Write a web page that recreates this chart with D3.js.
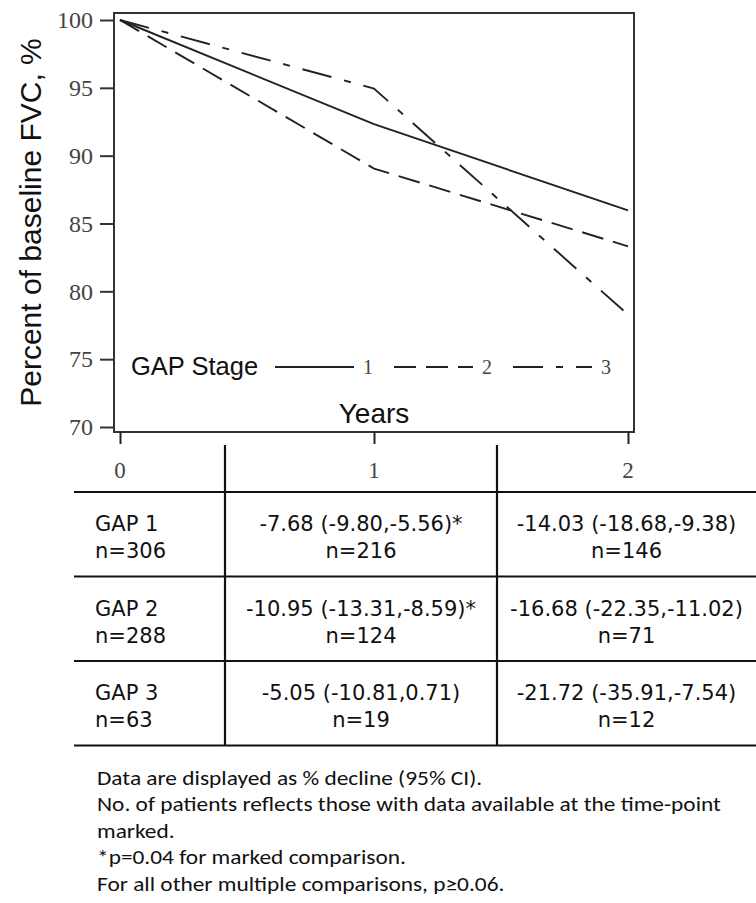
<!DOCTYPE html>
<html>
<head>
<meta charset="utf-8">
<script src="https://cdn.jsdelivr.net/npm/d3@7"></script>
<style>
  body { margin: 0; background: #fff; }
  svg { display: block; }
</style>
</head>
<body>
<div id="chart"></div>
<script>
// data
var years = [0, 1, 2];
var yTicks = [70, 75, 80, 85, 90, 95, 100];
var stages = ["1", "2", "3"];
var gap1 = [100, 92.32, 85.97];
var gap2 = [100, 89.05, 83.32];
var gap3 = [100, 94.95, 78.28];

var rowLabels = ["GAP 1", "GAP 2", "GAP 3"];
var rowN = ["n=306", "n=288", "n=63"];
var year1Change = ["-7.68 (-9.80,-5.56)*", "-10.95 (-13.31,-8.59)*", "-5.05 (-10.81,0.71)"];
var year1N = ["n=216", "n=124", "n=19"];
var year2Change = ["-14.03 (-18.68,-9.38)", "-16.68 (-22.35,-11.02)", "-21.72 (-35.91,-7.54)"];
var year2N = ["n=146", "n=71", "n=12"];

var notes = [
  "Data are displayed as % decline (95% CI).",
  "No. of patients reflects those with data available at the time-point",
  "marked.",
  "*p=0.04 for marked comparison.",
  "For all other multiple comparisons, p\u22650.06."
];

var svgWidth = 756;
var svgHeight = 903;

var svg = d3.select("#chart")
  .append("svg")
  .attr("width", svgWidth)
  .attr("height", svgHeight);

var ink = "#222";
var serif = "'Liberation Serif', 'Times New Roman', serif";
var sans = "'Liberation Sans', Arial, sans-serif";
var tableFont = "'DejaVu Sans', sans-serif";
var noteFont = "Carlito, Calibri, 'Open Sans', sans-serif";

// scales
var x = d3.scaleLinear().domain([0, 2]).range([120, 628]);
var y = d3.scaleLinear().domain([70, 100]).range([427, 20]);

// plot frame
var box = { left: 114, right: 634, top: 13, bottom: 432 };
svg.append("rect")
  .attr("x", box.left)
  .attr("y", box.top)
  .attr("width", box.right - box.left)
  .attr("height", box.bottom - box.top)
  .attr("fill", "none")
  .attr("stroke", "#333")
  .attr("stroke-width", 2);

// y axis
var yAxis = svg.append("g")
  .attr("transform", `translate(${box.left - 1}, 0)`)
  .call(d3.axisLeft(y).tickValues(yTicks).tickSize(13).tickPadding(7));
yAxis.select(".domain").remove();
yAxis.selectAll(".tick line").attr("stroke", "#333").attr("stroke-width", 2);
yAxis.selectAll(".tick text")
  .attr("font-family", serif)
  .attr("font-size", 24)
  .attr("fill", "#444");

// x axis
var xAxis = svg.append("g")
  .attr("transform", `translate(0, ${box.bottom})`)
  .call(d3.axisBottom(x).tickValues(years).tickSize(12).tickFormat(""));
xAxis.select(".domain").remove();
xAxis.selectAll(".tick line").attr("stroke", "#222").attr("stroke-width", 2);

svg.append("g")
  .selectAll("text")
  .data(years)
  .enter()
  .append("text")
  .attr("x", d => x(d))
  .attr("y", 478)
  .attr("text-anchor", "middle")
  .attr("font-family", serif)
  .attr("font-size", 23)
  .attr("fill", "#444")
  .text(d => d);

// axis titles
svg.append("text")
  .attr("transform", `translate(41, ${(box.top + box.bottom) / 2}) rotate(-90)`)
  .attr("text-anchor", "middle")
  .attr("font-family", sans)
  .attr("font-size", 30)
  .attr("fill", "#111")
  .text("Percent of baseline FVC, %");

svg.append("text")
  .attr("x", x(1))
  .attr("y", 423)
  .attr("text-anchor", "middle")
  .attr("font-family", sans)
  .attr("font-size", 28)
  .attr("fill", "#111")
  .text("Years");

// lines
var series = [
  { stage: stages[0], values: gap1, dash: null },
  { stage: stages[1], values: gap2, dash: "22,10" },
  { stage: stages[2], values: gap3, dash: "30,13,7,13" }
];

var line = d3.line()
  .x((d, i) => x(years[i]))
  .y(d => y(d));

svg.append("g")
  .selectAll("path")
  .data(series)
  .enter()
  .append("path")
  .attr("d", d => line(d.values))
  .attr("fill", "none")
  .attr("stroke", ink)
  .attr("stroke-width", 1.9)
  .attr("stroke-dasharray", d => d.dash);

// legend
var legend = svg.append("g").attr("transform", "translate(0, 367)");
legend.append("text")
  .attr("x", 131)
  .attr("y", 8)
  .attr("font-family", sans)
  .attr("font-size", 25.5)
  .attr("fill", "#111")
  .text("GAP Stage");

var legendItem = legend.selectAll("g.item")
  .data(series)
  .enter()
  .append("g")
  .attr("class", "item")
  .attr("transform", (d, i) => `translate(${275 + i * 119}, 0)`);

legendItem.append("line")
  .attr("x1", 0)
  .attr("x2", 79)
  .attr("stroke", ink)
  .attr("stroke-width", 1.9)
  .attr("stroke-dasharray", d => d.dash);

legendItem.append("text")
  .attr("x", 93)
  .attr("y", 7)
  .attr("text-anchor", "middle")
  .attr("font-family", serif)
  .attr("font-size", 20)
  .attr("fill", "#444")
  .text(d => d.stage);

// table under the plot
var table = svg.append("g");
var colEdges = [74, 225, 497, 756];
var rowTop = 492;
var rowH = 84.5;

table.selectAll("line.h")
  .data(d3.range(rowLabels.length + 1))
  .enter()
  .append("line")
  .attr("x1", colEdges[0])
  .attr("x2", colEdges[3])
  .attr("y1", d => rowTop + d * rowH)
  .attr("y2", d => rowTop + d * rowH)
  .attr("stroke", "#111")
  .attr("stroke-width", 2.2);

table.selectAll("line.v")
  .data([colEdges[1], colEdges[2]])
  .enter()
  .append("line")
  .attr("x1", d => d)
  .attr("x2", d => d)
  .attr("y1", 445)
  .attr("y2", rowTop + rowLabels.length * rowH)
  .attr("stroke", "#111")
  .attr("stroke-width", 2.2);

var rows = table.selectAll("g.row")
  .data(rowLabels)
  .enter()
  .append("g")
  .attr("transform", (d, i) => `translate(0, ${rowTop + i * rowH})`);

function cell(sel, xPos, anchor, top, bottom) {
  sel.append("text")
    .attr("x", xPos)
    .attr("y", 39)
    .attr("text-anchor", anchor)
    .attr("font-family", tableFont)
    .attr("font-size", 21)
    .attr("fill", "#111")
    .text(top);
  sel.append("text")
    .attr("x", xPos)
    .attr("y", 66)
    .attr("text-anchor", anchor)
    .attr("font-family", tableFont)
    .attr("font-size", 21)
    .attr("fill", "#111")
    .text(bottom);
}

rows.each(function(d, i) {
  var g = d3.select(this);
  cell(g, 95, "start", rowLabels[i], rowN[i]);
  cell(g, (colEdges[1] + colEdges[2]) / 2, "middle", year1Change[i], year1N[i]);
  cell(g, (colEdges[2] + colEdges[3]) / 2, "middle", year2Change[i], year2N[i]);
});

// footnotes (the source text is a little stretched sideways)
svg.append("g")
  .attr("transform", "translate(97, 0) scale(1.14, 1)")
  .selectAll("text")
  .data(notes)
  .enter()
  .append("text")
  .attr("x", 0)
  .attr("y", (d, i) => 785 + i * 26.5)
  .attr("font-family", noteFont)
  .attr("font-size", 20.5)
  .attr("fill", "#111")
  .text(d => d);
</script>
</body>
</html>
